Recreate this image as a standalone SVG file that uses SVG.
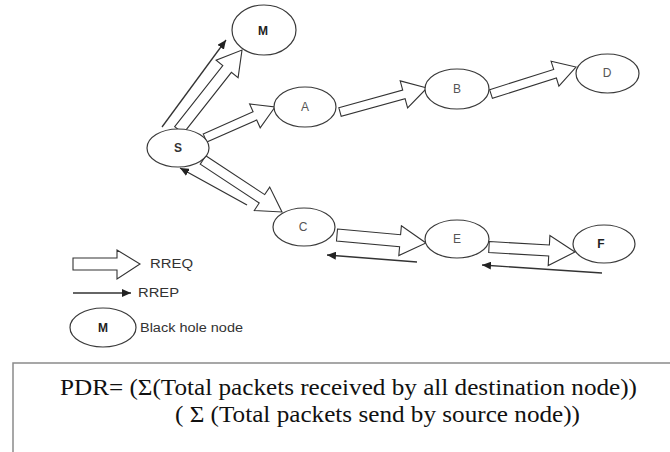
<svg xmlns="http://www.w3.org/2000/svg" width="670" height="452" viewBox="0 0 670 452">
  <style>
    .node ellipse { fill: #ffffff; stroke: #3a3a3a; stroke-width: 1.2; }
    .lbl { font-family: "Liberation Sans", Arial, sans-serif; font-size: 12px; fill: #555; text-anchor: middle; }
    .lblb { font-family: "Liberation Sans", Arial, sans-serif; font-size: 12px; font-weight: bold; fill: #222; text-anchor: middle; }
    .rreq { fill: #ffffff; stroke: #333; stroke-width: 1.1; stroke-linejoin: miter; }
    .rrep { fill: none; stroke: #333; stroke-width: 1.3; marker-end: url(#head); }
    .leg { font-family: "Liberation Sans", Arial, sans-serif; font-size: 12px; fill: #333; }
    .formula { font-family: "Liberation Serif", "Times New Roman", serif; font-size: 24px; fill: #111; }
  </style>
  <defs>
    <marker id="head" markerUnits="userSpaceOnUse" markerWidth="10" markerHeight="8" refX="9" refY="4" orient="auto">
      <path d="M0,0 L9,4 L0,8 Z" fill="#222"/>
    </marker>
  </defs>
  <rect width="670" height="452" fill="#ffffff"/>

  <g id="connectors">
    <!-- RREQ block arrows -->
    <polygon class="rreq" points="174.7,126.6 222.8,65.5 216.1,60.2 242,50 238.1,77.6 231.4,72.3 183.3,133.4"/>
    <polygon class="rreq" points="203.2,133.9 253.1,111.8 249.6,104.0 275,107 260.2,127.8 256.7,120.0 206.8,142.1"/>
    <polygon class="rreq" points="338.8,107.7 402.7,90.1 400.2,80.9 427,88 407.6,107.9 405.1,98.7 341.2,116.3"/>
    <polygon class="rreq" points="489.6,89.7 553.7,69.4 551.1,61.3 576,67 558.9,86.1 556.4,78.0 492.4,98.3"/>
    <polygon class="rreq" points="205.75,155.8 264.7,194.6 269.7,187.1 282,212 254.3,210.5 259.2,203.0 200.25,164.2"/>
    <polygon class="rreq" points="337.5,229.0 400.6,234.7 401.4,225.8 426,243 398.8,255.6 399.6,246.7 336.5,241.0"/>
    <polygon class="rreq" points="489.3,241.5 549.4,245.0 549.9,235.5 575,252 548.2,265.5 548.7,256.0 488.7,252.5"/>
    <!-- RREP lines -->
    <line class="rrep" x1="162" y1="127" x2="226" y2="40"/>
    <line class="rrep" x1="247" y1="205" x2="180" y2="168"/>
    <line class="rrep" x1="417" y1="262" x2="327" y2="255"/>
    <line class="rrep" x1="602" y1="273" x2="482" y2="265"/>
  </g>

  <g id="node-M" class="node">
    <ellipse cx="264" cy="30" rx="32" ry="25"/>
    <text class="lblb" x="263" y="35">M</text>
  </g>
  <g id="node-S" class="node">
    <ellipse cx="178" cy="148" rx="31" ry="19"/>
    <text class="lblb" x="178" y="152" style="fill:#333">S</text>
  </g>
  <g id="node-A" class="node">
    <ellipse cx="305" cy="107" rx="31" ry="20"/>
    <text class="lbl" x="305" y="111">A</text>
  </g>
  <g id="node-B" class="node">
    <ellipse cx="457" cy="89" rx="32" ry="20"/>
    <text class="lbl" x="457" y="93">B</text>
  </g>
  <g id="node-D" class="node">
    <ellipse cx="607.5" cy="73.5" rx="31.5" ry="19.5"/>
    <text class="lbl" x="607" y="77">D</text>
  </g>
  <g id="node-C" class="node">
    <ellipse cx="304" cy="227" rx="31" ry="19"/>
    <text class="lbl" x="303" y="231">C</text>
  </g>
  <g id="node-E" class="node">
    <ellipse cx="457" cy="239" rx="32" ry="19"/>
    <text class="lbl" x="457" y="243">E</text>
  </g>
  <g id="node-F" class="node">
    <ellipse cx="604" cy="244" rx="31" ry="19"/>
    <text class="lblb" x="601" y="248">F</text>
  </g>

  <g id="legend">
    <polygon class="rreq" points="73,258 117,258 117,250 140,264 117,279 117,270 73,270"/>
    <text class="leg" x="150" y="268" textLength="43" lengthAdjust="spacingAndGlyphs">RREQ</text>
    <line class="rrep" x1="73" y1="293" x2="131" y2="293"/>
    <text class="leg" x="138" y="297" textLength="41" lengthAdjust="spacingAndGlyphs">RREP</text>
    <g id="legend-M" class="node">
      <ellipse cx="103" cy="327.5" rx="33" ry="19.5"/>
      <text class="lblb" x="103" y="332">M</text>
    </g>
    <text class="leg" x="140" y="332" textLength="103" lengthAdjust="spacingAndGlyphs">Black hole node</text>
  </g>

  <g id="formula-box">
    <rect x="13" y="363" width="680" height="120" fill="none" stroke="#8a8a8a" stroke-width="1.5"/>
    <text class="formula" x="60" y="395" textLength="577" lengthAdjust="spacingAndGlyphs">PDR= (Σ(Total packets received by all destination node))</text>
    <text class="formula" x="175" y="422" textLength="405" lengthAdjust="spacingAndGlyphs">( Σ (Total packets send by source node))</text>
  </g>
</svg>
